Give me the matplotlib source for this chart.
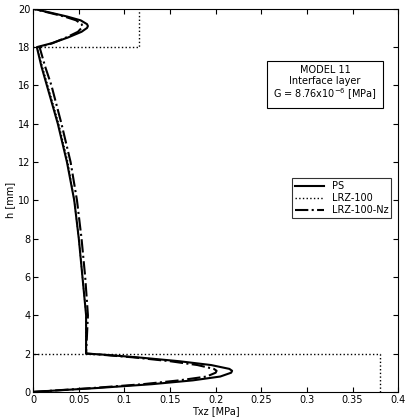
import matplotlib
matplotlib.use("Agg")
import matplotlib.pyplot as plt

h_ps = [0, 0.2, 0.4, 0.6, 0.8, 1.0, 1.1, 1.2, 1.4, 1.6, 1.8, 1.95, 2.0, 3, 4, 6, 8, 10, 12, 14, 16, 17, 18.0, 18.2, 18.5, 18.8, 19.0, 19.1, 19.2, 19.4, 19.6, 19.8, 20]
tx_ps = [0, 0.07, 0.13, 0.175, 0.205, 0.217, 0.218, 0.215, 0.195, 0.16, 0.115, 0.075, 0.058, 0.058, 0.058, 0.054, 0.050, 0.045, 0.037, 0.027, 0.015, 0.009, 0.004, 0.02, 0.038, 0.053, 0.059, 0.060, 0.059, 0.052, 0.037, 0.019, 0]

h_nz = h_ps
tx_nz = [0, 0.065, 0.12, 0.16, 0.19, 0.2, 0.201, 0.198, 0.18, 0.15, 0.11, 0.072, 0.058, 0.059, 0.060, 0.057, 0.053, 0.048, 0.041, 0.031, 0.020, 0.013, 0.007, 0.021, 0.036, 0.049, 0.053, 0.054, 0.053, 0.047, 0.034, 0.017, 0]

h_lrz_bot = [0, 2, 2]
tx_lrz_bot = [0.38, 0.38, 0.0]
h_lrz_top = [18, 18, 20]
tx_lrz_top = [0.0, 0.116, 0.116]
h_lrz_mid = [2, 2, 4, 6, 8, 10, 12, 14, 16, 18]
tx_lrz_mid = [0.06, 0.058, 0.058, 0.054, 0.050, 0.045, 0.038, 0.028, 0.016, 0.004]

fig = plt.figure(figsize=(4.2, 4.2), dpi=100)
ax = fig.add_axes([0.079, 0.067, 0.869, 0.912])
ax.plot(tx_ps, h_ps, 'k-', lw=1.5, label='PS')
ax.plot(tx_lrz_bot, h_lrz_bot, 'k:', lw=1, label='LRZ-100')
ax.plot(tx_lrz_top, h_lrz_top, 'k:', lw=1)
ax.plot(tx_lrz_mid, h_lrz_mid, 'k:', lw=1)
ax.plot(tx_nz, h_nz, 'k-.', lw=1.5, label='LRZ-100-Nz')
ax.set_xlim(0, 0.4)
ax.set_ylim(0, 20)
ax.set_xticks([0, 0.05, 0.1, 0.15, 0.2, 0.25, 0.3, 0.35, 0.4])
ax.set_xticklabels(['0', '0.05', '0.1', '0.15', '0.2', '0.25', '0.3', '0.35', '0.4'])
ax.set_yticks(range(0, 21, 2))
ax.tick_params(direction='in', top=True, right=True, labelsize=7, pad=2)
ax.set_xlabel('Txz [MPa]', fontsize=7, labelpad=1)
ax.set_ylabel('h [mm]', fontsize=7, labelpad=2)
leg = ax.legend(loc='upper right', bbox_to_anchor=(0.995, 0.57), fontsize=7, fancybox=False,
                edgecolor='k', handlelength=3.0, borderpad=0.3, labelspacing=0.2)
leg.get_frame().set_linewidth(0.8)
ax.text(0.8, 0.805, 'MODEL 11\nInterface layer\nG = 8.76x10$^{-6}$ [MPa]', transform=ax.transAxes,
        ha='center', va='center', fontsize=7, linespacing=1.1,
        bbox=dict(boxstyle='square,pad=0.6', fc='white', ec='k', lw=0.8))
fig.savefig('out.png', dpi=100)
